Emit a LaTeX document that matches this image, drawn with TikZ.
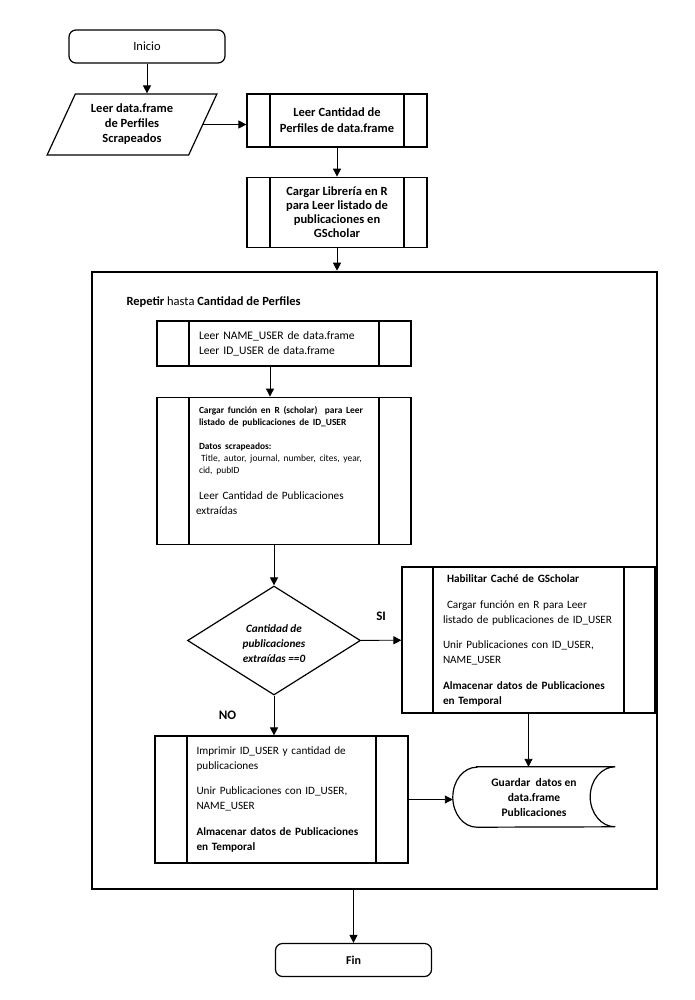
\documentclass[tikz,border=0pt]{standalone}
\usepackage{fontspec}
\setmainfont{Carlito}
\usetikzlibrary{arrows.meta,positioning,shapes.geometric}

\begin{document}
\begin{tikzpicture}[x=1pt,y=1pt,every node/.style={font=\fontsize{11.2}{14.5}\selectfont},terminal/.style={rectangle,rounded corners=7pt,draw,line width=1.2pt,minimum width=156pt,minimum height=33pt,font=\fontsize{12.5}{14}\selectfont},io/.style={trapezium,trapezium left angle=65,trapezium right angle=115,trapezium stretches=true,draw,line width=1.2pt,minimum width=170pt,minimum height=61pt,align=center,font=\bfseries\fontsize{12.5}{15}\selectfont},subproc/.style={rectangle,draw,line width=1.2pt,path picture={\draw[line width=1.2pt]([xshift=#1]path picture bounding box.north west)--([xshift=#1]path picture bounding box.south west)([xshift=-#1]path picture bounding box.north east)--([xshift=-#1]path picture bounding box.south east);}},decision/.style={diamond,draw,line width=1.2pt,aspect=1.59,minimum width=173pt,minimum height=109pt,inner sep=0pt,align=center,font=\bfseries\itshape\fontsize{11.2}{15}\selectfont},loopframe/.style={rectangle,draw,line width=2.6pt,minimum width=565pt,minimum height=617pt},storage/.style={minimum width=162pt,minimum height=60pt,align=center,font=\bfseries\fontsize{11.5}{15}\selectfont},answer/.style={font=\bfseries\fontsize{13}{15}\selectfont},arrow/.style={-{Triangle[length=8pt,width=8pt]},line width=0.9pt}]
\useasboundingbox(0,0)rectangle(695,-1000);
\node[terminal](inicio) at (147,-46.5){Inicio};
\node[io](leer) at (132,-124.5){Leer data.frame\\de Perfiles\\Scrapeados};
\node[subproc=23pt,minimum width=180pt,minimum height=53pt,align=center,font=\bfseries\fontsize{12.5}{16}\selectfont](cant) at (337,-120.5){Leer Cantidad de\\Perfiles de data.frame};
\node[subproc=23pt,minimum width=180pt,minimum height=70pt,align=center,font=\bfseries\fontsize{12.5}{14}\selectfont,below=29pt of cant](lib){Cargar Librería en R\\para Leer listado de\\publicaciones en\\GScholar};
\node[loopframe](loop) at (374.5,-580.5){};
\node[anchor=west,font=\fontsize{12.5}{15}\selectfont](rep) at (123,-302){\textbf{Repetir} hasta \textbf{Cantidad de Perfiles}};
\node[subproc=32pt,minimum width=254pt,minimum height=45pt,text width=170pt,inner xsep=42pt,align=left,font=\fontsize{11.6}{15}\selectfont](nameu) at (284,-343.5){Leer NAME\_USER de data.frame\\Leer ID\_USER de data.frame};
\node[subproc=32pt,minimum width=254pt,minimum height=147pt,text width=176pt,inner xsep=39pt,align=left,below=30pt of nameu](func){\leftskip=3pt\fontsize{9.4}{11.8}\selectfont\bfseries Cargar función en R (scholar)\ \ para Leer\\listado de publicaciones de ID\_USER\par\vspace{12pt}Datos scrapeados:\\\mdseries\fontsize{9.5}{11.8}\selectfont\hspace*{2pt}Title, autor, journal, number, cites, year,\\cid, pubID\par\vspace{12pt}\fontsize{11.2}{14.8}\selectfont Leer Cantidad de Publicaciones\\extraídas\rule[-20pt]{0pt}{20pt}};
\node[decision](cond) at (274,-640.5){\rule{0pt}{15pt}Cantidad de\\publicaciones\\extraídas ==0};
\node[subproc=31pt,minimum width=253pt,minimum height=146pt,text width=171pt,inner xsep=41pt,align=left](habil) at (528.5,-640){\hspace*{4pt}\textbf{Habilitar Caché de GScholar}\\[12pt]\hspace*{4pt}Cargar función en R para Leer\\listado de publicaciones de ID\_USER\\[11pt]Unir Publicaciones con ID\_USER,\\NAME\_USER\\[12pt]\textbf{Almacenar datos de Publicaciones}\\\textbf{en Temporal}};
\node[subproc=32pt,minimum width=253pt,minimum height=127pt,text width=170pt,inner xsep=41.5pt,align=left](imp) at (281.5,-799.5){Imprimir ID\_USER y cantidad de\\publicaciones\\[11pt]Unir Publicaciones con ID\_USER,\\NAME\_USER\\[12pt]\textbf{Almacenar datos de Publicaciones}\\\textbf{en Temporal}};
\node[storage](guard) at (534,-797){Guardar\ \ datos en\\data.frame\\Publicaciones};
\draw[line width=1.2pt]([xshift=24pt]guard.north west)--(guard.north east)arc[start angle=90,end angle=270,x radius=25pt,y radius=30pt]--([xshift=24pt]guard.south west)arc[start angle=270,end angle=90,x radius=24pt,y radius=30pt]--cycle;
\node[terminal,font=\bfseries\fontsize{12}{14}\selectfont](fin) at (353.5,-960){Fin};
\draw[arrow](inicio)--(inicio|-leer.north);\draw[arrow](leer.east)--(leer.east-|cant.west);\draw[arrow](cant)--(lib);\draw[arrow](lib)--(lib|-loop.north);\draw[arrow]([xshift=-14pt]nameu.south)--([xshift=-14pt]func.north);\draw[arrow](cond.north|-func.south)--(cond);\draw[arrow](cond)--node[answer,above=16pt]{SI}(habil);\draw[arrow](cond)--node[answer,left=34pt]{NO}(cond|-imp.north);\draw[arrow](imp.east)--(imp.east-|guard.west);\draw[arrow](habil)--(habil|-guard.north);\draw[arrow](loop.south-|fin.north)--(fin);
\end{tikzpicture}
\end{document}
